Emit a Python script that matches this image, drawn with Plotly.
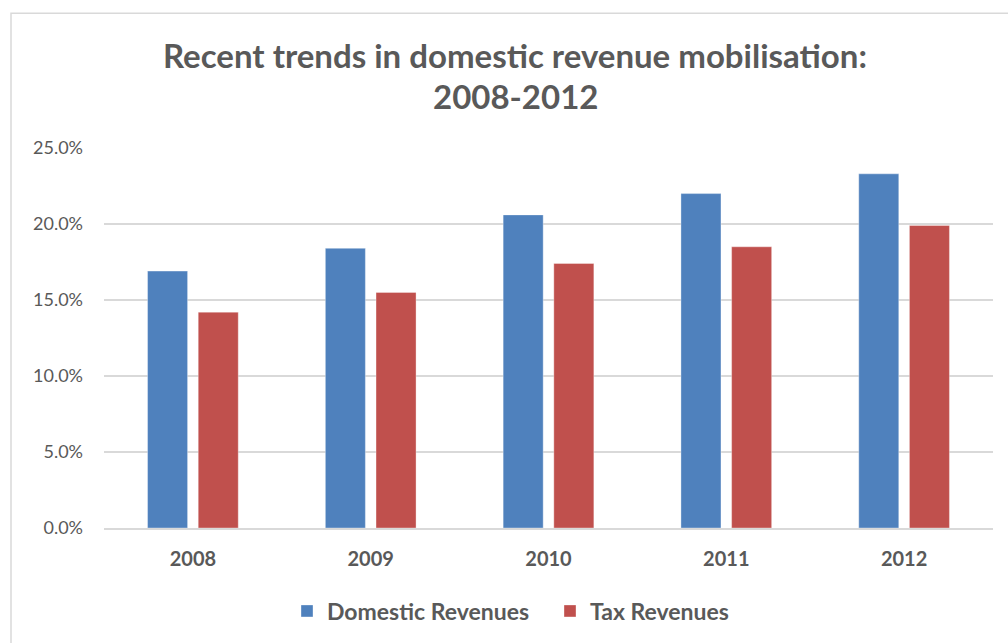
import plotly.graph_objects as go

# Revenue shares of GDP (%), 2008-2012
years = ["2008", "2009", "2010", "2011", "2012"]
domestic_revenues = [16.9, 18.4, 20.6, 22.0, 23.3]
tax_revenues = [14.2, 15.5, 17.4, 18.5, 19.9]
y_ticks = [0, 5, 10, 15, 20, 25]
y_tick_labels = [f"{v:.1f}%" for v in y_ticks]

TEXT = "#595959"
GRID = "#D9D9D9"
FONT = "Lato"

W, H = 1008, 643
M_L, M_R, M_T, M_B = 104, 15, 148, 114
PW, PH = W - M_L - M_R, H - M_T - M_B


def px_x(px):
    return (px - M_L) / PW


def px_y(py):
    return (H - M_B - py) / PH


fig = go.Figure()
fig.add_trace(go.Bar(
    name="Domestic Revenues", x=years, y=domestic_revenues,
    marker=dict(color="#4F81BD", line=dict(color="rgba(255,255,255,0.35)", width=1)),
))
fig.add_trace(go.Bar(
    name="Tax Revenues", x=years, y=tax_revenues,
    marker=dict(color="#C0504D", line=dict(color="rgba(255,255,255,0.35)", width=1)),
))

fig.update_layout(
    width=W, height=H,
    margin=dict(l=M_L, r=M_R, t=M_T, b=M_B),
    paper_bgcolor="white", plot_bgcolor="white",
    barmode="group", bargap=0.43, bargroupgap=0.21,
    font=dict(family=FONT, color=TEXT),
    showlegend=True,
    legend=dict(
        orientation="h", x=px_x(287), xanchor="left",
        y=px_y(611), yanchor="middle",
        entrywidth=218,
        font=dict(family=FONT, size=23, color=TEXT, weight="bold"),
        itemclick=False, itemdoubleclick=False,
    ),
    xaxis=dict(
        showgrid=False, showline=True, linecolor=GRID, linewidth=1.5,
        ticks="", ticklabelstandoff=12,
        tickfont=dict(family=FONT, size=20, color=TEXT, weight="bold"),
    ),
    yaxis=dict(
        range=[0, 25], tickvals=y_ticks, ticktext=y_tick_labels,
        showgrid=True, gridcolor=GRID, gridwidth=1.5,
        zeroline=False, showline=False, ticks="",
        ticklabelstandoff=20,
        tickfont=dict(family=FONT, size=18, color=TEXT),
    ),
    shapes=[dict(
        type="rect", xref="paper", yref="paper",
        x0=px_x(11), x1=px_x(1025), y0=px_y(660), y1=px_y(13),
        line=dict(color=GRID, width=1.5), fillcolor="rgba(0,0,0,0)", layer="below",
    )],
    annotations=[
        dict(text="Recent trends in domestic revenue mobilisation:",
             xref="paper", yref="paper", x=px_x(515), y=px_y(55),
             xanchor="center", yanchor="middle", showarrow=False,
             font=dict(family=FONT, size=33, color=TEXT, weight="bold")),
        dict(text="2008-2012",
             xref="paper", yref="paper", x=px_x(515), y=px_y(96),
             xanchor="center", yanchor="middle", showarrow=False,
             font=dict(family=FONT, size=33, color=TEXT, weight="bold")),
    ],
)

fig.write_html("out.html")
